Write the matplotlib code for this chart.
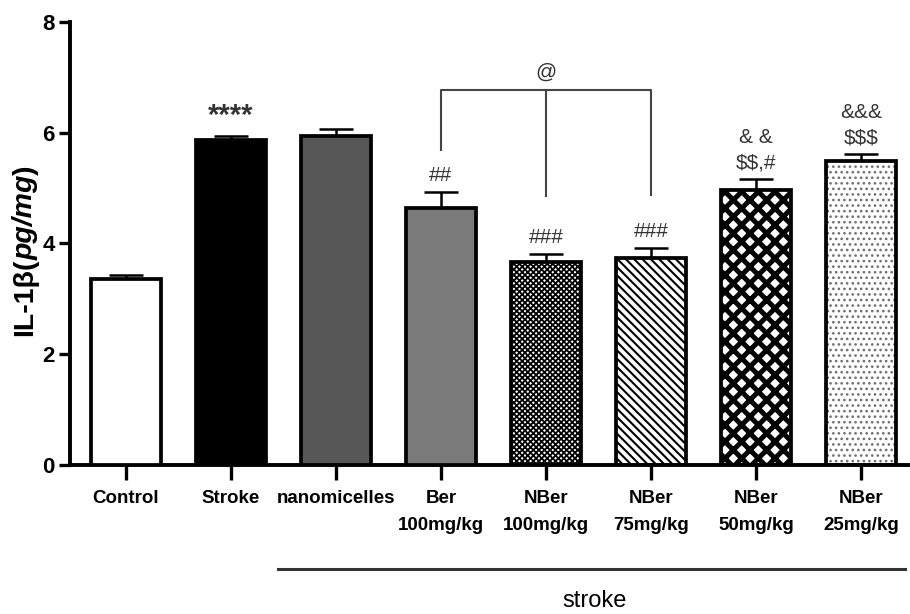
import matplotlib
matplotlib.use("Agg")
import matplotlib.pyplot as plt
from matplotlib.font_manager import fontManager

categories = ["Control", "Stroke", "nanomicelles", "Ber\n100mg/kg", "NBer\n100mg/kg",
              "NBer\n75mg/kg", "NBer\n50mg/kg", "NBer\n25mg/kg"]
values = [3.36, 5.86, 5.95, 4.64, 3.66, 3.74, 4.96, 5.49]
errors = [0.07, 0.09, 0.11, 0.29, 0.15, 0.18, 0.20, 0.12]
annotations = ["", "****", "", "##", "###", "###", "& &\n$$,#", "&&&\n$$$"]
bracket_text = "@"
group_label = "stroke"

names = {f.name for f in fontManager.ttflist}
narrow = "Liberation Sans Narrow" if "Liberation Sans Narrow" in names else "Liberation Sans"
plt.rcParams['font.family'] = ['Liberation Sans', 'DejaVu Sans']

fig = plt.figure(figsize=(9.10, 6.14), dpi=100)
ax = fig.add_axes([0.077, 0.2427, 0.921, 0.7215])

x = list(range(len(categories)))
w = 0.67
lw = 2.7

styles = [
    dict(fc="white", hatch=None, hc="black", hlw=1),
    dict(fc="black", hatch=None, hc="black", hlw=1),
    dict(fc="#575757", hatch=None, hc="black", hlw=1),
    dict(fc="#7a7a7a", hatch=None, hc="black", hlw=1),
    dict(fc="white", hatch="xxxxxx", hc="black", hlw=1.3),
    dict(fc="white", hatch="\\\\\\\\", hc="black", hlw=1.5),
    dict(fc="white", hatch="xx", hc="black", hlw=3.6),
    dict(fc="white", hatch="...", hc="#707070", hlw=1.1),
]

for i, (v, st) in enumerate(zip(values, styles)):
    if st["hatch"]:
        with plt.rc_context({'hatch.linewidth': st["hlw"], 'hatch.color': st["hc"]}):
            ax.bar(x[i], v, width=w, color=st["fc"], edgecolor=st["hc"], linewidth=0,
                   hatch=st["hatch"], zorder=2)
        ax.bar(x[i], v, width=w, fill=False, edgecolor="black", linewidth=lw, zorder=3)
    else:
        ax.bar(x[i], v, width=w, color=st["fc"], edgecolor="black", linewidth=lw, zorder=3)

ax.errorbar(x, values, yerr=[[0]*len(values), errors], fmt="none", ecolor="black",
            elinewidth=1.8, capsize=12.5, capthick=1.8, zorder=1)

for i, (v, e, t) in enumerate(zip(values, errors, annotations)):
    if not t:
        continue
    if t.startswith("*"):
        ax.text(x[i], v + e + 0.1, t, ha="center", va="bottom", fontsize=21,
                fontweight="bold", color="#333333", zorder=4, parse_math=False)
    else:
        ax.text(x[i], v + e + 0.12, t, ha="center", va="bottom", fontsize=15,
                color="#333333", linespacing=1.45, zorder=4, parse_math=False)

# bracket across Ber 100, NBer 100, NBer 75
top = 6.77
ax.plot([x[3], x[3], x[5], x[5]], [values[3] + 1.05, top, top, values[5] + 1.13],
        color="#444444", lw=1.5, zorder=4)
ax.plot([x[4], x[4]], [top, values[4] + 1.2], color="#444444", lw=1.5, zorder=4)
ax.text(x[4], top + 0.15, bracket_text, ha="center", va="bottom", fontsize=15,
        color="#333333", parse_math=False)

ax.set_ylim(0, 8)
ax.set_xlim(-0.53, 7.45)
ax.set_yticks([0, 2, 4, 6, 8])
ax.set_xticks(x)
ax.set_xticklabels(categories, fontsize=13.5, fontweight="bold", family=narrow,
                   linespacing=1.75)
for lab in ax.get_yticklabels():
    lab.set_fontsize(16)
    lab.set_fontweight("bold")
ax.tick_params(axis="y", direction="out", length=8, width=2.4, pad=3)
ax.tick_params(axis="x", direction="out", length=11, width=2.4, pad=7)
for s in ["top", "right"]:
    ax.spines[s].set_visible(False)
for s in ["left", "bottom"]:
    ax.spines[s].set_linewidth(2.8)

# y label with italic unit part
lx = 0.028
fs = 20.5
t1 = fig.text(lx, 1 - 336 / 614, "IL-1β(", rotation=90, fontsize=fs, fontweight="bold",
              ha="center", va="bottom")
fig.canvas.draw()
bb = t1.get_window_extent()
t2 = fig.text(lx, (bb.y1 - 2) / fig.bbox.height, "pg/mg", rotation=90, fontsize=fs,
              fontweight="bold", style="italic", ha="center", va="bottom")
fig.canvas.draw()
bb2 = t2.get_window_extent()
fig.text(lx, bb2.y1 / fig.bbox.height, ")", rotation=90, fontsize=fs, fontweight="bold",
         ha="center", va="bottom")

# group line and label
fig.add_artist(plt.Line2D([278 / 910, 905 / 910], [1 - 569 / 614, 1 - 569 / 614],
                          color="#333333", lw=2.2))
fig.text(595 / 910, 1 - 601 / 614, group_label, fontsize=17, ha="center", va="center")

fig.savefig("out.png", dpi=100)
